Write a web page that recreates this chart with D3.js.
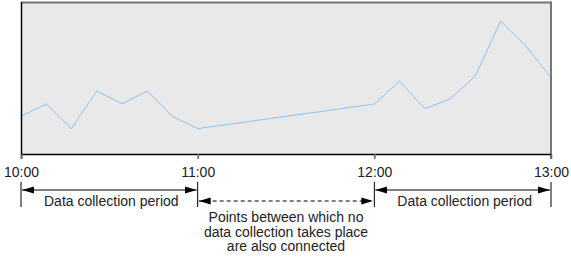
<!DOCTYPE html>
<html>
<head>
<meta charset="utf-8">
<script src="https://cdn.jsdelivr.net/npm/d3@7"></script>
<style>
  body { margin: 0; background: #fff; }
  svg { display: block; font-family: "Liberation Sans", Arial, sans-serif; }
</style>
</head>
<body>
<svg id="chart" width="571" height="257"></svg>
<script>
// minutes after 10:00 (0-100 scale)
const hour1Minutes = [0, 8.6, 17.1, 25.7, 34.3, 42.9, 51.4, 60];
const hour1Values  = [25.0, 33.1, 16.8, 41.7, 33.3, 41.7, 25.0, 16.8];
const hour3Minutes = [120, 128.6, 137.1, 145.7, 154.3, 162.9, 171.4, 180];
const hour3Values  = [33.1, 48.3, 30.0, 36.4, 51.7, 88.1, 71.7, 50.5];

const tickMinutes = [0, 60, 120, 180];
const tickLabels = ["10:00", "11:00", "12:00", "13:00"];

const periodStarts = [0, 120];
const periodEnds = [60, 180];
const periodLabel = "Data collection period";
const gapStart = 60, gapEnd = 120;
const gapLines = ["Points between which no", "data collection takes place", "are also connected"];

const svg = d3.select("#chart");
const plotL = 21, plotR = 551, plotT = 3, plotB = 154;

const x = d3.scaleLinear().domain([0, 180]).range([plotL, plotR]);
const y = d3.scaleLinear().domain([0, 100]).range([plotB, plotT]);

// plot background
svg.append("rect")
  .attr("x", plotL).attr("y", plotT)
  .attr("width", plotR - plotL).attr("height", plotB - plotT)
  .attr("fill", "#e9e9e9");

// data line: points either side of the gap are joined
const points = hour1Minutes.map((m, i) => [m, hour1Values[i]])
  .concat(hour3Minutes.map((m, i) => [m, hour3Values[i]]));

svg.append("path")
  .datum(points)
  .attr("fill", "none")
  .attr("stroke", "#8cc3f7")
  .attr("stroke-width", 1)
  .attr("d", d3.line().x(d => x(d[0])).y(d => y(d[1])));

// frame: gray top/right, black left/bottom
svg.append("line").attr("x1", plotL).attr("x2", plotR + 1).attr("y1", plotT - 0.5).attr("y2", plotT - 0.5)
  .attr("stroke", "#777").attr("stroke-width", 2);
svg.append("line").attr("x1", plotR).attr("x2", plotR).attr("y1", plotT - 1.5).attr("y2", plotB + 5)
  .attr("stroke", "#777").attr("stroke-width", 2);
svg.append("line").attr("x1", plotL).attr("x2", plotR).attr("y1", plotB + 0.5).attr("y2", plotB + 0.5)
  .attr("stroke", "#000").attr("stroke-width", 1.5);
svg.append("line").attr("x1", plotL + 0.5).attr("x2", plotL + 0.5).attr("y1", plotT - 1).attr("y2", plotB + 5)
  .attr("stroke", "#000").attr("stroke-width", 1.5);

// axis
const axis = svg.append("g")
  .attr("transform", `translate(0,${plotB})`)
  .call(d3.axisBottom(x)
    .tickValues(tickMinutes)
    .tickFormat((d, i) => tickLabels[i])
    .tickSize(5)
    .tickPadding(8));
axis.select(".domain").remove();
axis.selectAll(".tick line").attr("stroke", "#666").attr("stroke-width", 1.5);
axis.selectAll(".tick text")
  .attr("font-size", 14)
  .attr("font-family", "Liberation Sans, Arial, sans-serif")
  .attr("fill", "#222");

// arrow heads
const defs = svg.append("defs");
["start", "end"].forEach(k => {
  defs.append("marker")
    .attr("id", "arrow-" + k)
    .attr("viewBox", "0 0 12 8")
    .attr("refX", k === "end" ? 12 : 0)
    .attr("refY", 4)
    .attr("markerWidth", 12)
    .attr("markerHeight", 8)
    .attr("markerUnits", "userSpaceOnUse")
    .attr("orient", "auto")
    .append("path")
    .attr("d", k === "end" ? "M0,0.5L12,4L0,7.5Z" : "M12,0.5L0,4L12,7.5Z")
    .attr("fill", "#000");
});

// delimiter lines
svg.append("g").selectAll("line")
  .data(tickMinutes)
  .join("line")
  .attr("x1", d => x(d)).attr("x2", d => x(d))
  .attr("y1", 182).attr("y2", 207)
  .attr("stroke", "#000").attr("stroke-width", 1);

// data collection period arrows
const periods = periodStarts.map((s, i) => [s, periodEnds[i]]);
const pg = svg.append("g");
pg.selectAll("line")
  .data(periods)
  .join("line")
  .attr("x1", d => x(d[0]) + 1).attr("x2", d => x(d[1]) - 1)
  .attr("y1", 190).attr("y2", 190)
  .attr("stroke", "#000").attr("stroke-width", 1)
  .attr("marker-start", "url(#arrow-start)")
  .attr("marker-end", "url(#arrow-end)");
pg.selectAll("text")
  .data(periods)
  .join("text")
  .attr("x", d => (x(d[0]) + x(d[1])) / 2 + 2)
  .attr("y", 206)
  .attr("text-anchor", "middle")
  .attr("font-size", 14)
  .attr("fill", "#222")
  .text(periodLabel);

// gap arrow
svg.append("line")
  .attr("x1", x(gapStart) + 1).attr("x2", x(gapEnd) - 1)
  .attr("y1", 201).attr("y2", 201)
  .attr("stroke", "#000").attr("stroke-width", 1)
  .attr("stroke-dasharray", "4,3")
  .attr("marker-start", "url(#arrow-start)")
  .attr("marker-end", "url(#arrow-end)");

svg.append("text")
  .attr("text-anchor", "middle")
  .attr("font-size", 14)
  .attr("fill", "#222")
  .selectAll("tspan")
  .data(gapLines)
  .join("tspan")
  .attr("x", (x(gapStart) + x(gapEnd)) / 2)
  .attr("y", (d, i) => 222 + i * 14.5)
  .text(d => d);
</script>
</body>
</html>
